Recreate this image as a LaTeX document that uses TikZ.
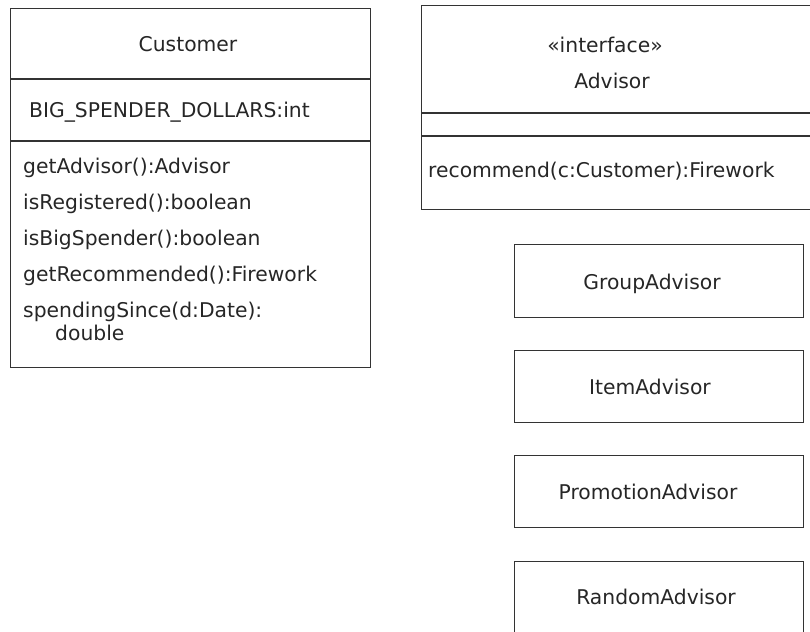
\documentclass[tikz,border=0pt]{standalone}
\usepackage{fontspec}
\setmainfont{DejaVu Sans}
\definecolor{ink}{HTML}{262626}
\definecolor{edge}{HTML}{333333}
\tikzset{
  x=1pt, y=-1pt,
  box/.style={draw=edge, line width=1.4pt, rectangle, inner sep=0pt, anchor=north west},
  sep/.style={draw=edge, line width=1.4pt},
  lbl/.style={inner sep=0pt, text=ink, font=\fontsize{20.3}{24}\selectfont},
}
\begin{document}
\begin{tikzpicture}
\useasboundingbox (0,0) rectangle (810,631);
% Customer
\node[box, minimum width=360pt, minimum height=359pt] (cust) at (10,8) {};
\draw[sep] (cust.west |- 0,79) -- (cust.east |- 0,79);
\draw[sep] (cust.west |- 0,141) -- (cust.east |- 0,141);
\node[lbl, anchor=base] (custname) at (188,52) {Customer};
\node[lbl, anchor=base west] (custattr) at (29,118) {BIG\_SPENDER\_DOLLARS:int};
\node[lbl, anchor=base west] (m1) at (23,173) {getAdvisor():Advisor};
\node[lbl, anchor=base west] (m2) at (23,209) {isRegistered():boolean};
\node[lbl, anchor=base west] (m3) at (23,245) {isBigSpender():boolean};
\node[lbl, anchor=base west] (m4) at (23,281) {getRecommended():Firework};
\node[lbl, anchor=base west] (m5) at (23,317) {spendingSince(d:Date):};
\node[lbl, anchor=base west] (m5b) at (55,340) {double};
% Advisor interface
\node[box, minimum width=400pt, minimum height=204pt] (adv) at (421,5) {};
\draw[sep] (adv.west |- 0,113) -- (adv.east |- 0,113);
\draw[sep] (adv.west |- 0,136) -- (adv.east |- 0,136);
\node[lbl, anchor=base] (stereo) at (605,53) {«interface»};
\node[lbl, anchor=base] (advname) at (612,89) {Advisor};
\node[lbl, anchor=base west] (rec) at (428,178) {recommend(c:Customer):Firework};
% Implementations
\node[box, minimum width=289pt, minimum height=73pt] (group) at (514,244) {};
\node[lbl, anchor=base] (groupt) at (652,289) {GroupAdvisor};
\node[box, minimum width=289pt, minimum height=72pt] (item) at (514,350) {};
\node[lbl, anchor=base] (itemt) at (650,394) {ItemAdvisor};
\node[box, minimum width=289pt, minimum height=72pt] (promo) at (514,455) {};
\node[lbl, anchor=base] (promot) at (648,499) {PromotionAdvisor};
\node[box, minimum width=289pt, minimum height=80pt] (rand) at (514,561) {};
\node[lbl, anchor=base] (randt) at (656,604) {RandomAdvisor};
\end{tikzpicture}
\end{document}
